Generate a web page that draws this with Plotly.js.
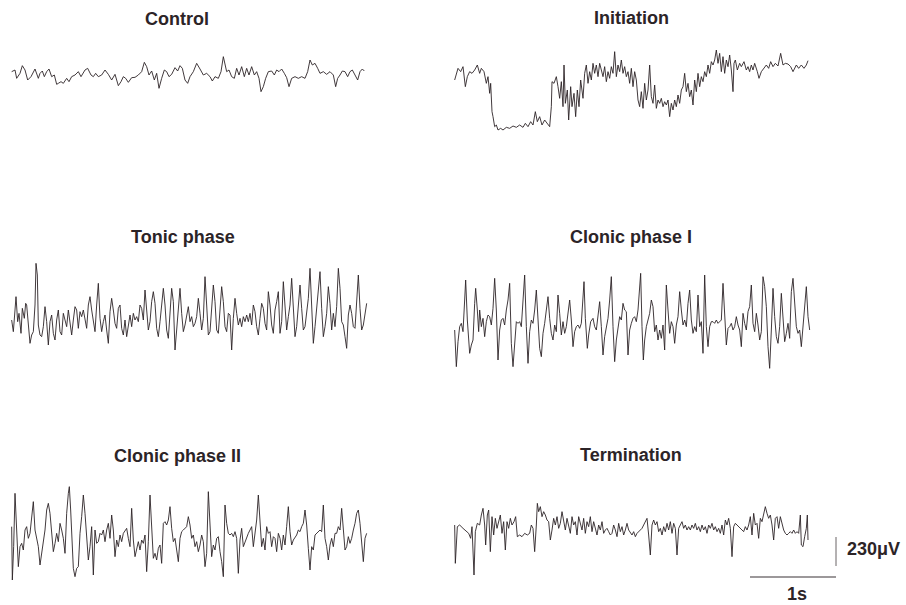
<!DOCTYPE html>
<html><head><meta charset="utf-8">
<script src="https://cdn.plot.ly/plotly-3.0.1.min.js"></script>
<style>html,body{margin:0;padding:0;background:#fff}#chart{width:906px;height:605px}</style>
</head><body><div id="chart"></div>
<script>
// Amplitude follows the EEG "negative-up" convention (larger value = downward deflection).
const panelTitles = ["Control", "Initiation", "Tonic phase", "Clonic phase I", "Clonic phase II", "Termination"];

const control = [[20,80],[30,75],[35,100],[45,85],[52,62],[60,75],[68,105],[78,95],[90,72],[100,100],[105,85],[112,78],[118,95],[125,80],[132,72],[140,95],[148,90],[155,118],[160,115],[168,110],[175,115],[185,100],[192,110],[200,95],[210,90],[220,80],[228,95],[240,75],[248,70],[258,90],[265,95],[272,85],[280,95],[290,90],[300,75],[310,88],[320,105],[330,88],[340,122],[348,110],[355,95],[362,100],[370,112],[380,98],[390,97],[400,90],[410,80],[418,52],[425,65],[432,90],[440,78],[448,105],[455,85],[462,130],[470,100],[478,75],[485,80],[492,95],[500,88],[510,68],[518,78],[525,62],[532,70],[540,105],[548,115],[555,95],[565,80],[575,55],[585,72],[595,90],[605,85],[615,95],[622,108],[630,95],[640,100],[648,80],[655,35],[660,55],[665,80],[672,75],[680,95],[688,100],[695,70],[702,90],[710,65],[718,95],[725,70],[732,90],[740,65],[748,90],[755,80],[762,100],[768,140],[775,125],[782,100],[790,80],[800,78],[808,90],[815,75],[822,80],[830,72],[838,85],[845,98],[852,125],[860,100],[870,95],[880,100],[890,95],[900,100],[908,80],[915,45],[922,60],[930,55],[938,70],[945,85],[955,80],[965,88],[975,80],[985,90],[992,125],[998,100],[1005,90],[1012,78],[1020,80],[1028,95],[1035,80],[1042,75],[1050,90],[1058,105],[1065,80],[1072,72],[1078,78]];

const initiation = [[20,120],[30,85],[38,95],[45,80],[52,140],[58,110],[65,95],[72,100],[80,90],[88,75],[95,100],[100,85],[108,95],[115,130],[120,110],[125,160],[128,130],[132,215],[135,230],[140,260],[145,255],[150,270],[158,265],[165,270],[175,262],[185,265],[195,258],[205,262],[215,255],[225,262],[232,250],[240,260],[248,245],[255,255],[262,215],[268,245],[275,230],[282,255],[290,240],[298,250],[305,260],[310,200],[312,125],[318,130],[325,110],[330,140],[335,175],[340,125],[345,200],[348,75],[352,190],[358,150],[362,240],[368,140],[372,200],[378,160],[383,230],[388,150],[393,200],[398,120],[405,175],[410,100],[415,75],[420,130],[425,95],[430,120],[435,70],[440,100],[445,75],[450,110],[455,70],[460,90],[465,110],[470,80],[475,125],[480,95],[485,115],[490,80],[495,100],[500,35],[505,110],[510,75],[515,95],[520,60],[525,100],[530,80],[535,110],[540,95],[545,130],[550,85],[555,140],[560,95],[565,120],[570,180],[575,200],[580,155],[585,205],[590,130],[595,180],[600,150],[605,75],[610,170],[615,190],[620,135],[625,205],[630,180],[635,190],[640,175],[645,200],[650,185],[655,195],[660,180],[665,230],[670,190],[675,210],[680,180],[685,200],[690,165],[695,190],[700,150],[705,140],[710,100],[715,155],[720,130],[725,170],[730,150],[735,195],[740,120],[745,155],[750,100],[755,140],[760,110],[765,125],[770,95],[775,110],[780,75],[785,100],[790,65],[795,75],[800,60],[805,30],[810,70],[815,40],[820,95],[825,50],[830,100],[835,60],[840,80],[845,45],[850,90],[855,155],[858,70],[862,60],[868,90],[875,70],[880,80],[888,65],[895,90],[900,80],[905,95],[910,75],[915,90],[920,70],[928,95],[933,115],[940,95],[948,85],[955,75],[962,85],[968,65],[975,80],[982,70],[990,78],[998,40],[1005,75],[1012,70],[1020,72],[1028,80],[1035,95],[1045,75],[1052,85],[1060,75],[1068,85],[1075,75],[1080,62]];

const tonic = [[20,195],[25,230],[30,165],[33,125],[38,200],[42,175],[48,235],[52,160],[58,190],[62,145],[65,150],[70,200],[75,265],[80,240],[85,230],[90,150],[93,25],[97,60],[100,210],[105,240],[110,245],[115,215],[120,155],[125,200],[130,270],[135,200],[140,180],[145,235],[150,255],[155,195],[160,165],[165,230],[170,240],[175,175],[180,200],[185,215],[190,165],[195,200],[200,240],[205,195],[210,155],[215,165],[220,220],[225,170],[230,185],[235,165],[240,195],[245,220],[250,150],[255,125],[260,165],[265,200],[270,230],[275,150],[280,85],[285,190],[290,230],[295,200],[300,180],[305,225],[310,265],[315,170],[320,130],[325,165],[330,205],[335,220],[340,160],[345,150],[350,220],[355,240],[360,195],[365,245],[370,205],[375,180],[380,215],[385,175],[390,195],[395,185],[400,200],[405,150],[410,160],[415,195],[420,105],[425,180],[430,225],[435,200],[440,140],[445,110],[450,145],[455,220],[460,245],[465,200],[470,140],[475,100],[480,150],[485,225],[490,250],[495,175],[500,100],[505,140],[510,285],[515,225],[520,150],[525,100],[530,175],[535,230],[540,210],[545,180],[550,155],[555,200],[560,185],[565,215],[570,205],[575,185],[580,130],[585,175],[590,225],[595,190],[600,65],[605,150],[610,240],[615,230],[620,160],[625,90],[630,140],[635,225],[640,235],[645,160],[650,95],[655,140],[660,215],[665,230],[670,175],[675,180],[680,285],[685,190],[690,130],[695,175],[700,210],[705,190],[710,215],[715,185],[720,200],[725,180],[730,200],[735,175],[740,210],[745,150],[750,170],[755,215],[760,240],[765,190],[770,145],[775,160],[780,205],[785,225],[790,110],[795,150],[800,210],[805,235],[810,165],[815,140],[820,110],[825,235],[830,200],[835,80],[840,155],[845,225],[850,185],[855,150],[860,70],[865,150],[870,245],[875,215],[880,150],[885,90],[890,160],[895,225],[900,215],[905,180],[910,130],[915,40],[920,150],[925,265],[930,215],[935,160],[940,95],[945,50],[950,160],[955,245],[960,215],[965,175],[970,95],[975,145],[980,225],[985,175],[990,215],[995,155],[1000,40],[1005,100],[1010,200],[1015,210],[1020,245],[1025,280],[1030,180],[1035,150],[1040,175],[1045,215],[1050,220],[1055,140],[1060,60],[1065,160],[1070,225],[1075,210],[1080,175],[1085,145]];

const clonic1 = [[20,210],[25,320],[30,245],[35,200],[40,190],[45,215],[50,120],[53,60],[58,180],[62,250],[65,280],[70,255],[75,240],[80,130],[83,85],[88,150],[92,215],[95,150],[100,200],[105,175],[110,230],[115,185],[120,165],[125,170],[130,195],[135,145],[140,55],[145,150],[150,300],[155,210],[160,180],[165,175],[170,195],[175,150],[180,120],[185,70],[190,250],[195,320],[200,235],[205,185],[210,190],[215,185],[220,200],[225,120],[230,45],[235,200],[240,310],[245,215],[250,180],[255,190],[260,150],[265,90],[270,190],[275,265],[280,290],[285,220],[290,190],[295,150],[300,110],[305,175],[310,220],[315,240],[320,195],[325,215],[330,105],[335,160],[340,225],[345,185],[350,220],[355,200],[360,165],[365,120],[370,180],[375,260],[380,215],[385,200],[390,195],[395,205],[400,190],[405,120],[408,65],[412,175],[418,265],[422,225],[428,185],[435,175],[440,200],[445,210],[450,175],[455,125],[460,200],[465,285],[470,230],[475,200],[480,175],[485,120],[490,50],[495,200],[500,305],[505,240],[510,210],[515,170],[520,180],[525,130],[530,150],[535,155],[540,285],[545,210],[550,190],[555,175],[560,170],[565,185],[570,150],[575,75],[578,40],[582,200],[586,300],[590,240],[595,200],[600,180],[605,160],[610,120],[615,140],[620,215],[625,195],[630,240],[635,210],[640,235],[645,195],[650,270],[655,75],[660,150],[665,220],[670,185],[675,200],[680,250],[685,195],[690,170],[695,95],[700,150],[705,195],[710,180],[715,200],[720,130],[725,90],[730,180],[735,220],[740,200],[745,215],[750,105],[755,200],[760,185],[765,280],[770,45],[775,200],[780,260],[785,200],[790,185],[795,185],[800,190],[805,180],[810,190],[815,185],[820,180],[825,70],[830,175],[835,255],[840,205],[845,200],[850,190],[855,210],[860,200],[865,170],[870,195],[875,210],[880,260],[885,160],[890,190],[895,210],[900,155],[905,140],[910,75],[915,190],[920,215],[925,160],[930,195],[935,240],[940,215],[945,50],[950,80],[955,140],[960,260],[965,325],[970,210],[975,85],[980,170],[985,230],[990,250],[995,200],[1000,100],[1005,160],[1010,245],[1015,220],[1020,190],[1025,235],[1030,95],[1035,55],[1040,130],[1045,200],[1050,220],[1055,210],[1060,260],[1065,200],[1070,125],[1075,80],[1080,170],[1085,210]];

const clonic2 = [[20,140],[22,300],[26,200],[30,40],[35,150],[40,260],[45,200],[50,190],[55,210],[60,150],[65,140],[70,175],[75,160],[80,120],[85,65],[90,150],[95,180],[100,200],[105,255],[110,220],[115,200],[120,150],[125,90],[130,70],[135,100],[140,160],[145,215],[150,190],[155,160],[160,185],[165,130],[170,150],[175,175],[180,220],[185,100],[190,40],[193,20],[197,90],[200,180],[205,265],[210,290],[215,265],[220,260],[225,160],[230,110],[235,45],[240,100],[245,165],[250,240],[255,200],[260,140],[265,285],[270,150],[275,190],[280,185],[285,160],[290,165],[295,150],[300,185],[305,150],[310,130],[315,175],[320,105],[325,150],[330,230],[335,180],[340,200],[345,165],[350,185],[355,160],[360,150],[365,145],[370,175],[375,200],[380,85],[385,180],[390,230],[395,205],[400,185],[405,210],[410,180],[415,190],[420,165],[425,275],[430,185],[435,45],[440,140],[445,235],[450,220],[455,240],[460,205],[465,195],[470,250],[475,130],[480,125],[485,135],[490,120],[495,80],[500,145],[505,185],[510,175],[515,210],[520,245],[525,175],[530,155],[535,150],[540,145],[545,140],[550,110],[555,135],[560,175],[565,165],[570,200],[575,185],[580,215],[585,195],[590,165],[595,185],[600,260],[605,220],[610,35],[615,160],[620,230],[625,195],[630,210],[635,175],[640,170],[645,215],[650,245],[655,290],[660,75],[665,130],[670,160],[675,165],[680,160],[685,170],[690,155],[695,175],[700,280],[705,180],[710,145],[715,200],[720,185],[725,175],[730,160],[735,150],[740,140],[745,200],[750,160],[755,120],[760,45],[765,140],[770,200],[775,175],[780,210],[785,140],[790,160],[795,155],[800,200],[805,170],[810,175],[815,215],[820,160],[825,175],[830,210],[835,165],[840,195],[845,140],[850,80],[855,155],[860,195],[865,180],[870,170],[875,165],[880,150],[885,155],[890,140],[895,130],[900,90],[905,135],[910,205],[915,270],[920,200],[925,210],[930,165],[935,160],[940,155],[945,150],[950,155],[955,75],[960,175],[965,200],[970,240],[975,195],[980,175],[985,200],[990,160],[995,160],[1000,140],[1005,150],[1010,85],[1015,165],[1020,210],[1025,200],[1030,170],[1035,190],[1040,175],[1045,150],[1050,130],[1055,100],[1060,90],[1065,130],[1070,200],[1075,245],[1080,175],[1085,160]];

const termination = [[20,150],[22,265],[28,155],[35,150],[45,160],[55,170],[62,175],[68,190],[72,155],[78,300],[82,170],[88,145],[95,150],[100,120],[105,100],[110,150],[113,210],[118,120],[122,105],[127,230],[132,125],[137,180],[142,130],[147,160],[152,140],[157,120],[162,175],[167,140],[172,225],[177,140],[182,160],[187,130],[192,150],[198,140],[203,125],[208,185],[215,180],[222,185],[230,175],[238,180],[245,175],[250,150],[255,160],[260,230],[265,150],[268,85],[272,110],[277,95],[282,125],[287,110],[292,120],[297,135],[302,140],[307,195],[312,165],[317,130],[322,150],[327,125],[332,160],[337,145],[342,110],[347,140],[352,165],[357,130],[362,150],[367,175],[372,125],[377,150],[382,140],[387,180],[392,125],[397,150],[402,165],[407,130],[412,175],[417,140],[422,155],[427,125],[432,170],[437,140],[442,160],[447,180],[452,150],[457,165],[462,140],[467,175],[472,165],[477,160],[482,170],[487,180],[492,175],[497,150],[502,165],[507,185],[512,145],[517,170],[522,155],[527,180],[532,165],[537,145],[542,165],[547,175],[552,180],[557,170],[562,185],[567,175],[572,170],[577,165],[582,160],[587,150],[592,140],[597,130],[602,180],[607,240],[612,150],[617,135],[622,150],[627,140],[632,170],[637,160],[642,180],[647,155],[652,170],[657,145],[662,165],[667,140],[672,175],[677,145],[682,160],[687,240],[692,160],[697,150],[702,140],[707,160],[712,150],[717,165],[722,155],[727,165],[732,150],[737,160],[742,145],[747,165],[752,155],[757,170],[762,150],[767,165],[772,155],[777,175],[782,150],[787,160],[792,145],[797,165],[802,155],[807,170],[812,160],[817,175],[822,150],[827,180],[832,135],[837,150],[842,130],[847,160],[852,245],[857,155],[862,145],[867,150],[872,155],[877,160],[882,165],[887,170],[892,155],[897,165],[902,150],[907,125],[912,180],[917,115],[922,150],[927,145],[932,190],[937,130],[942,140],[947,120],[952,95],[957,115],[962,130],[967,120],[972,150],[977,195],[982,130],[987,125],[992,160],[997,125],[1002,145],[1007,165],[1012,175],[1017,180],[1022,175],[1027,170],[1032,175],[1037,165],[1042,175],[1047,170],[1052,175],[1057,120],[1060,210],[1065,215],[1070,185],[1075,160],[1078,120],[1080,195]];

// Calibration (from the scale bars)
const scaleTimeSec = 1;
const scaleAmpUV = 230;
const scaleLabels = ["230μV", "1s"];

// ---------- layout / styling ----------
const W = 906, H = 605;
const PX_PER_SEC = 86, PX_PER_230UV = 29;
const SEC_PER_PX = scaleTimeSec / PX_PER_SEC;
const UV_PER_PX = scaleAmpUV / PX_PER_230UV;
const DIG = 3; // digitizer units per pixel

const series = [control, initiation, tonic, clonic1, clonic2, termination];
const frames = [
  {x0: 5,   y0: 45,  w: 370, h: 60,  tx: 177, ty: 19},
  {x0: 448, y0: 40,  w: 370, h: 105, tx: 631, ty: 18},
  {x0: 5,   y0: 255, w: 370, h: 100, tx: 183, ty: 237},
  {x0: 448, y0: 260, w: 370, h: 115, tx: 631, ty: 237},
  {x0: 5,   y0: 480, w: 370, h: 105, tx: 177, ty: 456},
  {x0: 448, y0: 475, w: 370, h: 110, tx: 631, ty: 455}
];
const INK = '#2c2427';
const FONT = 'Liberation Sans, Arial, Helvetica, sans-serif';

const data = [];
const layout = {
  width: W, height: H, margin: {l:0, r:0, t:0, b:0},
  paper_bgcolor: '#fff', plot_bgcolor: 'rgba(0,0,0,0)',
  showlegend: false, annotations: []
};

series.forEach((s, i) => {
  const f = frames[i];
  const k = i + 1, sx = k === 1 ? '' : k;
  data.push({
    type: 'scatter', mode: 'lines', hoverinfo: 'skip',
    x: s.map(p => p[0] / DIG * SEC_PER_PX),
    y: s.map(p => p[1] / DIG * UV_PER_PX),
    xaxis: 'x' + sx, yaxis: 'y' + sx,
    line: {color: INK, width: 0.9}
  });
  layout['xaxis' + sx] = {domain: [f.x0 / W, (f.x0 + f.w) / W], range: [0, f.w * SEC_PER_PX],
    visible: false, fixedrange: true, anchor: 'y' + sx};
  layout['yaxis' + sx] = {domain: [1 - (f.y0 + f.h) / H, 1 - f.y0 / H], range: [f.h * UV_PER_PX, 0],
    visible: false, fixedrange: true, anchor: 'x' + sx};
  layout.annotations.push({xref: 'paper', yref: 'paper', x: f.tx / W, y: 1 - f.ty / H,
    xanchor: 'center', yanchor: 'middle', showarrow: false,
    text: '<b>' + panelTitles[i] + '</b>', font: {family: FONT, size: 18, color: INK}});
});

// scale bars in their own calibrated axes (frame bottom at y=580 px)
const sb = {x0: 750, y0: 530, w: 100, h: 50, barUp: 3, vertUp: 14};
layout.xaxis7 = {domain: [sb.x0 / W, (sb.x0 + sb.w) / W], range: [0, sb.w * SEC_PER_PX], visible: false, fixedrange: true, anchor: 'y7'};
layout.yaxis7 = {domain: [1 - (sb.y0 + sb.h) / H, 1 - sb.y0 / H], range: [0, sb.h * UV_PER_PX], visible: false, fixedrange: true, anchor: 'x7'};
const hBarY = sb.barUp * UV_PER_PX;
const vBarY0 = sb.vertUp * UV_PER_PX;
data.push({type: 'scatter', mode: 'lines', hoverinfo: 'skip', xaxis: 'x7', yaxis: 'y7',
  x: [0, scaleTimeSec], y: [hBarY, hBarY], line: {color: '#3a3336', width: 1.2}});
data.push({type: 'scatter', mode: 'lines', hoverinfo: 'skip', xaxis: 'x7', yaxis: 'y7',
  x: [scaleTimeSec, scaleTimeSec], y: [vBarY0, vBarY0 + scaleAmpUV], line: {color: '#6a6466', width: 1}});

layout.annotations.push({xref: 'paper', yref: 'paper', x: 845 / W, y: 1 - 549 / H, xanchor: 'left', yanchor: 'middle',
  showarrow: false, text: '<b>' + scaleLabels[0] + '</b>', font: {family: FONT, size: 18, color: INK}});
layout.annotations.push({xref: 'paper', yref: 'paper', x: 797 / W, y: 1 - 594 / H, xanchor: 'center', yanchor: 'middle',
  showarrow: false, text: '<b>' + scaleLabels[1] + '</b>', font: {family: FONT, size: 18, color: INK}});

Plotly.newPlot('chart', data, layout, {staticPlot: true, displayModeBar: false});
</script></body></html>
